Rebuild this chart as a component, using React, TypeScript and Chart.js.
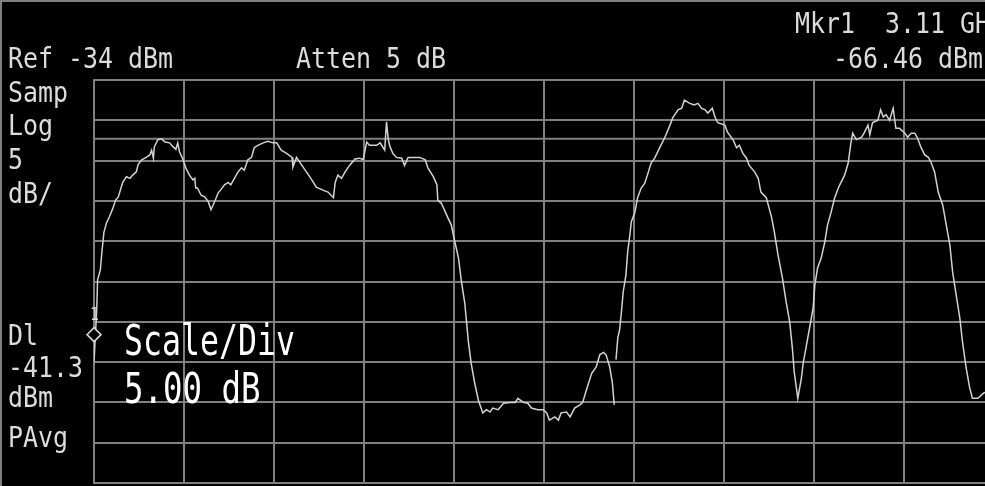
import React, { useEffect, useRef } from "react";
import { Chart, registerables } from "chart.js";

Chart.register(...registerables);

// ---- instrument settings ----
const refLevel = -34; // dBm (top of screen)
const scalePerDiv = 5; // dB/div
const vDivisions = 10;
const hDivisions = 10;
const attenDb = 5;
const displayLine = -41.3; // dBm
const markerFreq = "3.11 GHz";
const markerX = 0; // horizontal position in divisions
const markerDbm = -66.46;

// ---- trace (x in horizontal divisions, y in dBm; null = sweep gap) ----
const traceX = [
  0.0, 0.03, 0.04, 0.07, 0.09, 0.11, 0.14, 0.17, 0.21, 0.24, 0.27, 0.3, 0.32, 0.36, 0.4, 0.43, 0.47, 0.49,
  0.53, 0.58, 0.62, 0.64, 0.66, 0.67, 0.71, 0.75, 0.79, 0.84, 0.88, 0.91, 0.93, 0.95, 0.99, 1.02, 1.06,
  1.1, 1.12, 1.13, 1.15, 1.19, 1.23, 1.27, 1.3, 1.34, 1.38, 1.41, 1.45, 1.49, 1.52, 1.56, 1.6, 1.64, 1.67,
  1.71, 1.75, 1.78, 1.82, 1.88, 1.93, 1.99, 2.03, 2.08, 2.14, 2.2, 2.21, 2.25, 2.31, 2.36, 2.42, 2.47,
  2.55, 2.6, 2.66, 2.68, 2.71, 2.75, 2.79, 2.84, 2.9, 2.95, 2.99, 3.03, 3.06, 3.14, 3.18, 3.23, 3.25,
  3.27, 3.29, 3.32, 3.36, 3.42, 3.45, 3.49, 3.55, 3.62, 3.68, 3.71, 3.77, 3.81, 3.82, 3.86, 3.92, 3.97,
  4.01, 4.05, 4.08, 4.12, 4.16, 4.19, 4.23, 4.27, 4.32, 4.36, 4.4, 4.43, 4.49, 4.55, 4.62, 4.68, 4.71,
  4.77, 4.82, 4.86, 4.93, 4.99, 5.03, 5.06, 5.12, 5.16, 5.19, 5.25, 5.29, 5.34, 5.4, 5.43, 5.47, 5.53,
  5.58, 5.62, 5.66, 5.69, 5.73, 5.76, 5.78, 5.79, 5.8, 5.82, 5.84, 5.86, 5.88, 5.91, 5.93, 5.95, 5.97,
  6.01, 6.04, 6.08, 6.12, 6.16, 6.19, 6.23, 6.29, 6.34, 6.4, 6.43, 6.49, 6.53, 6.56, 6.62, 6.67, 6.71,
  6.75, 6.79, 6.82, 6.87, 6.9, 6.93, 7.01, 7.04, 7.1, 7.14, 7.17, 7.21, 7.25, 7.28, 7.34, 7.38, 7.41,
  7.47, 7.53, 7.56, 7.6, 7.65, 7.69, 7.73, 7.76, 7.78, 7.82, 7.86, 7.88, 7.91, 7.95, 7.99, 8.01, 8.04,
  8.08, 8.12, 8.15, 8.19, 8.23, 8.27, 8.3, 8.34, 8.38, 8.41, 8.43, 8.47, 8.53, 8.56, 8.6, 8.62, 8.65,
  8.71, 8.74, 8.77, 8.8, 8.84, 8.88, 8.91, 8.95, 9.01, 9.04, 9.08, 9.12, 9.15, 9.19, 9.23, 9.27, 9.3,
  9.34, 9.38, 9.43, 9.47, 9.51, 9.54, 9.58, 9.62, 9.65, 9.69, 9.73, 9.76, 9.82, 9.86, 9.89, 9.95, 10.0,
];

const traceDbm: (number | null)[] = [
  -69.0, -62.5, -58.8, -57.6, -55.1, -52.9, -51.7, -51.0, -49.9, -48.9, -48.5, -47.4, -46.7, -46.0, -46.2,
  -45.8, -45.4, -44.5, -43.9, -43.6, -43.3, -42.7, -43.7, -42.3, -41.4, -41.3, -41.7, -41.8, -42.3, -42.6,
  -41.8, -42.9, -43.9, -44.9, -45.8, -46.4, -46.2, -47.4, -47.4, -48.3, -48.5, -49.1, -50.1, -49.1, -48.0,
  -47.6, -47.0, -46.7, -47.0, -46.2, -45.4, -44.9, -45.2, -43.9, -43.6, -42.4, -42.1, -41.8, -41.6, -41.8,
  -41.8, -42.7, -43.1, -43.6, -44.8, -43.6, -44.6, -45.4, -46.4, -47.3, -47.7, -47.9, -48.6, -46.7, -45.8,
  -46.2, -45.4, -44.6, -43.8, -43.7, -43.9, -41.7, -42.1, -42.1, -41.8, -42.7, -39.2, -41.4, -42.3, -43.1,
  -43.6, -43.7, -44.6, -43.6, -43.6, -43.6, -43.9, -44.9, -46.0, -47.0, -48.9, -49.3, -50.8, -52.0, -54.1,
  -56.1, -58.8, -61.7, -66.5, -69.1, -71.6, -73.7, -75.3, -74.9, -75.2, -74.7, -74.9, -74.1, -74.0, -74.0,
  -73.5, -74.0, -74.1, -74.7, -74.9, -74.9, -75.3, -76.2, -75.8, -76.2, -75.3, -75.2, -75.8, -74.7, -74.3,
  -74.0, -72.5, -70.4, -69.6, -68.1, -67.8, -68.1, -69.6, -71.6, -74.3, null, -68.7, -66.0, -65.0, -62.8,
  -60.3, -58.2, -55.3, -53.6, -51.6, -50.4, -48.6, -47.4, -46.8, -45.4, -44.3, -43.7, -42.3, -41.2, -39.6,
  -38.7, -37.7, -37.5, -36.5, -36.9, -37.1, -36.9, -37.5, -37.7, -38.1, -37.5, -38.6, -39.3, -39.6, -40.5,
  -41.4, -42.4, -42.1, -43.1, -43.7, -44.6, -45.4, -46.2, -47.9, -48.6, -51.1, -52.9, -55.7, -58.6, -61.5,
  -64.0, -67.3, -70.2, -73.5, -71.0, -69.1, -67.3, -64.8, -62.3, -59.4, -57.3, -56.1, -54.1, -52.0, -50.4,
  -48.6, -47.4, -46.7, -45.8, -44.3, -41.8, -40.6, -41.4, -41.1, -40.5, -39.6, -40.8, -39.3, -39.0, -37.7,
  -38.6, -38.3, -39.0, -37.5, -40.0, -40.0, -40.6, -41.1, -40.6, -40.6, -41.2, -42.4, -43.3, -43.6, -44.2,
  -45.4, -47.9, -49.5, -52.0, -54.5, -57.8, -60.7, -63.5, -66.5, -69.7, -72.2, -73.5, -73.5, -73.1, -72.8,
  -72.7, -72.5,
];

const GRID = "#808080";
const TEXT = "#dcdcdc";
const FONT = '"DejaVu Sans Mono", "Liberation Mono", monospace';

function drawText(
  ctx: CanvasRenderingContext2D,
  text: string,
  x: number,
  y: number,
  size: number,
  advance: number,
  color: string,
  weight = "normal"
) {
  ctx.save();
  ctx.font = `${weight} ${size}px ${FONT}`;
  const natural = ctx.measureText("M").width;
  ctx.translate(x, y);
  ctx.scale(advance / natural, 1);
  ctx.fillStyle = color;
  ctx.textBaseline = "alphabetic";
  ctx.textAlign = "left";
  ctx.fillText(text, 0, 0);
  ctx.restore();
}

const screenPlugin = {
  id: "screen",
  beforeDraw(chart: any) {
    const ctx = chart.ctx as CanvasRenderingContext2D;
    ctx.save();
    ctx.fillStyle = "#000";
    ctx.fillRect(0, 0, chart.width, chart.height);
    ctx.fillStyle = GRID;
    ctx.fillRect(0, 0, chart.width, 2);
    ctx.fillRect(0, 0, 2, chart.height);
    ctx.restore();
  },
  afterDraw(chart: any) {
    const ctx = chart.ctx as CanvasRenderingContext2D;
    const sm = 28.8;
    const adv = 15;
    drawText(ctx, `Ref ${refLevel} dBm`, 8, 68, sm, adv, TEXT);
    drawText(ctx, `Atten ${attenDb} dB`, 296, 68, sm, adv, TEXT);
    drawText(ctx, `Mkr1  ${markerFreq}`, 795, 33, sm, adv, TEXT);
    drawText(ctx, `${markerDbm.toFixed(2)} dBm`, 833, 68, sm, adv, TEXT);
    drawText(ctx, "Samp", 8, 102, sm, adv, TEXT);
    drawText(ctx, "Log", 8, 135, sm, adv, TEXT);
    drawText(ctx, `${scalePerDiv}`, 8, 169, sm, adv, TEXT);
    drawText(ctx, "dB/", 8, 203, sm, adv, TEXT);
    drawText(ctx, "Dl", 8, 345, sm, adv, TEXT);
    drawText(ctx, `${displayLine}`, 8, 377, sm, adv, TEXT);
    drawText(ctx, "dBm", 8, 407, sm, adv, TEXT);
    drawText(ctx, "PAvg", 8, 447, sm, adv, TEXT);
    drawText(ctx, "Scale/Div", 124, 355, 42, 19, "#ffffff");
    drawText(ctx, `${scalePerDiv.toFixed(2)} dB`, 124, 403, 42, 19.5, "#ffffff");

    // marker
    const xs = chart.scales.x;
    const ys = chart.scales.y;
    const mx = xs.getPixelForValue(markerX);
    const my = ys.getPixelForValue(markerDbm) - 7;
    ctx.save();
    ctx.beginPath();
    ctx.moveTo(mx, my - 7);
    ctx.lineTo(mx + 7, my);
    ctx.lineTo(mx, my + 7);
    ctx.lineTo(mx - 7, my);
    ctx.closePath();
    ctx.fillStyle = "#000";
    ctx.fill();
    ctx.strokeStyle = TEXT;
    ctx.lineWidth = 1.5;
    ctx.stroke();
    ctx.restore();
    drawText(ctx, "1", mx - 4, my - 15, 17, 9, TEXT);
  },
};

export default function App() {
  const ref = useRef<HTMLCanvasElement | null>(null);

  useEffect(() => {
    if (!ref.current) return;
    const yMin = refLevel - scalePerDiv * vDivisions;
    const chart = new Chart(ref.current, {
      type: "line",
      data: {
        datasets: [
          {
            data: traceX.map((x, i) => ({ x, y: traceDbm[i] })) as any,
            borderColor: "#d2d2d2",
            borderWidth: 1.5,
            pointRadius: 0,
            tension: 0,
            spanGaps: false,
          },
          {
            data: [
              { x: 0, y: displayLine },
              { x: hDivisions, y: displayLine },
            ],
            borderColor: GRID,
            borderWidth: 2,
            pointRadius: 0,
          },
        ],
      },
      options: {
        responsive: false,
        animation: false,
        layout: { padding: { left: 94, top: 80, right: 16, bottom: 3 } },
        plugins: { legend: { display: false }, tooltip: { enabled: false } },
        scales: {
          x: {
            type: "linear",
            min: 0,
            max: hDivisions,
            ticks: { display: false, stepSize: 1 },
            grid: { color: GRID, lineWidth: 2, drawTicks: false },
            border: { display: true, color: GRID, width: 2 },
          },
          y: {
            type: "linear",
            min: yMin,
            max: refLevel,
            ticks: { display: false, stepSize: scalePerDiv },
            grid: { color: GRID, lineWidth: 2, drawTicks: false },
            border: { display: true, color: GRID, width: 2 },
          },
        },
      },
      plugins: [screenPlugin],
    });
    return () => chart.destroy();
  }, []);

  return (
    <div
      style={{
        position: "fixed",
        left: 0,
        top: 0,
        width: 985,
        height: 486,
        overflow: "hidden",
        background: "#000",
      }}
    >
      <canvas ref={ref} width={1010} height={486} style={{ display: "block" }} />
    </div>
  );
}
